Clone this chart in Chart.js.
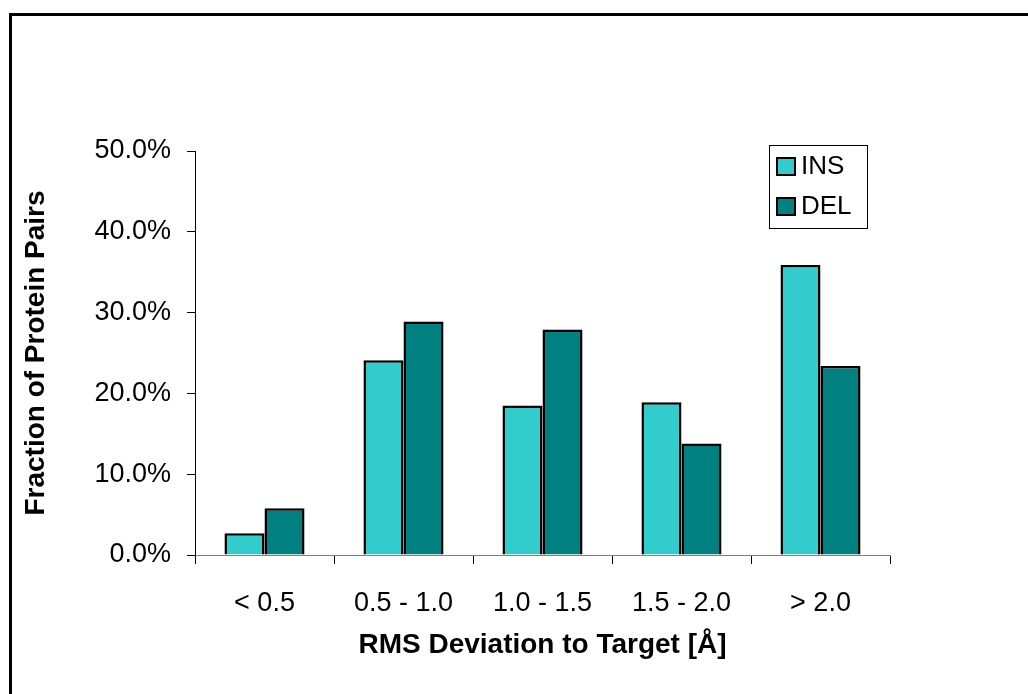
<!DOCTYPE html>
<html>
<head>
<meta charset="utf-8">
<title>RMS Deviation to Target</title>
<script src="https://cdn.jsdelivr.net/npm/chart.js@4.4.1/dist/chart.umd.min.js"></script>
<style>
  html, body { margin: 0; padding: 0; background: #fff; overflow: hidden; }
  #wrap { position: relative; width: 1028px; height: 694px; }
  #frame {
    position: absolute; left: 9px; top: 13px; width: 1100px; height: 800px;
    border-top: 3px solid #000; border-left: 3px solid #000;
    pointer-events: none;
  }
</style>
</head>
<body>
<div id="wrap">
  <canvas id="rms-chart" width="1028" height="694"></canvas>
  <div id="frame"></div>
</div>
<script>
// RMS bins and fraction of protein pairs (%) per bin
const categories = ['< 0.5', '0.5 - 1.0', '1.0 - 1.5', '1.5 - 2.0', '> 2.0'];
const insValues = [2.7, 24.1, 18.5, 18.9, 35.9];
const delValues = [5.8, 28.9, 27.9, 13.8, 23.4];
const yTicks = [0, 10, 20, 30, 40, 50];

const FONT = "'Liberation Sans', Arial, sans-serif";

/**
 * Boxed legend drawn inside the plot, top right
 */
const boxLegend = {
  id: 'boxLegend',
  afterDatasetsDraw(chart) {
    const { ctx, chartArea } = chart;
    const w = 98, h = 83;
    const x = chartArea.right - 23 - w;
    const y = chartArea.top - 6;

    ctx.save();
    ctx.fillStyle = '#fff';
    ctx.fillRect(x, y, w, h);
    ctx.strokeStyle = '#000';
    ctx.lineWidth = 1;
    ctx.strokeRect(x + 0.5, y + 0.5, w, h);

    ctx.font = '26px ' + FONT;
    ctx.textBaseline = 'middle';
    chart.data.datasets.forEach((ds, i) => {
      const sy = y + 13 + i * 40;
      ctx.fillStyle = ds.backgroundColor;
      ctx.fillRect(x + 8, sy, 18, 17);
      ctx.lineWidth = 2;
      ctx.strokeRect(x + 8, sy, 18, 17);
      ctx.fillStyle = '#000';
      ctx.fillText(ds.label, x + 32, sy + 9);
    });
    ctx.restore();
  }
};

new Chart(document.getElementById('rms-chart'), {
  type: 'bar',
  data: {
    labels: categories,
    datasets: [
      {
        label: 'INS',
        data: insValues,
        backgroundColor: '#33cccc',
        borderColor: '#000',
        borderWidth: 2.5
      },
      {
        label: 'DEL',
        data: delValues,
        backgroundColor: '#008080',
        borderColor: '#000',
        borderWidth: 2.5
      }
    ]
  },
  options: {
    responsive: false,
    animation: false,
    devicePixelRatio: 1,
    layout: {
      padding: { top: 151, right: 138, bottom: 0, left: 0 }
    },
    datasets: {
      bar: { categoryPercentage: 0.576, barPercentage: 1 }
    },
    scales: {
      x: {
        afterFit(scale) { scale.height = 139; },
        grid: {
          offset: true,
          drawOnChartArea: false,
          drawTicks: true,
          tickLength: 9,
          color: '#000'
        },
        border: { display: true, color: '#808080', width: 1 },
        ticks: {
          color: '#000',
          padding: 23,
          maxRotation: 0,
          font: { family: FONT, size: 27 }
        },
        title: {
          display: true,
          text: 'RMS Deviation to Target [Å]',
          color: '#000',
          padding: { top: 0, bottom: 32 },
          font: { family: FONT, size: 28, weight: 'bold' }
        }
      },
      y: {
        min: 0,
        max: 50,
        afterFit(scale) { scale.width = 195; },
        afterBuildTicks(scale) { scale.ticks = yTicks.map(v => ({ value: v })); },
        grid: {
          drawOnChartArea: false,
          drawTicks: true,
          tickLength: 8,
          color: '#000'
        },
        border: { display: true, color: '#000', width: 1 },
        ticks: {
          color: '#000',
          padding: 16,
          font: { family: FONT, size: 27 },
          callback: v => v.toFixed(1) + '%'
        },
        title: {
          display: true,
          text: 'Fraction of Protein Pairs',
          color: '#000',
          padding: { top: 19, bottom: 0 },
          font: { family: FONT, size: 28, weight: 'bold' }
        }
      }
    },
    plugins: {
      legend: { display: false },
      tooltip: { enabled: false }
    }
  },
  plugins: [boxLegend]
});
</script>
</body>
</html>
